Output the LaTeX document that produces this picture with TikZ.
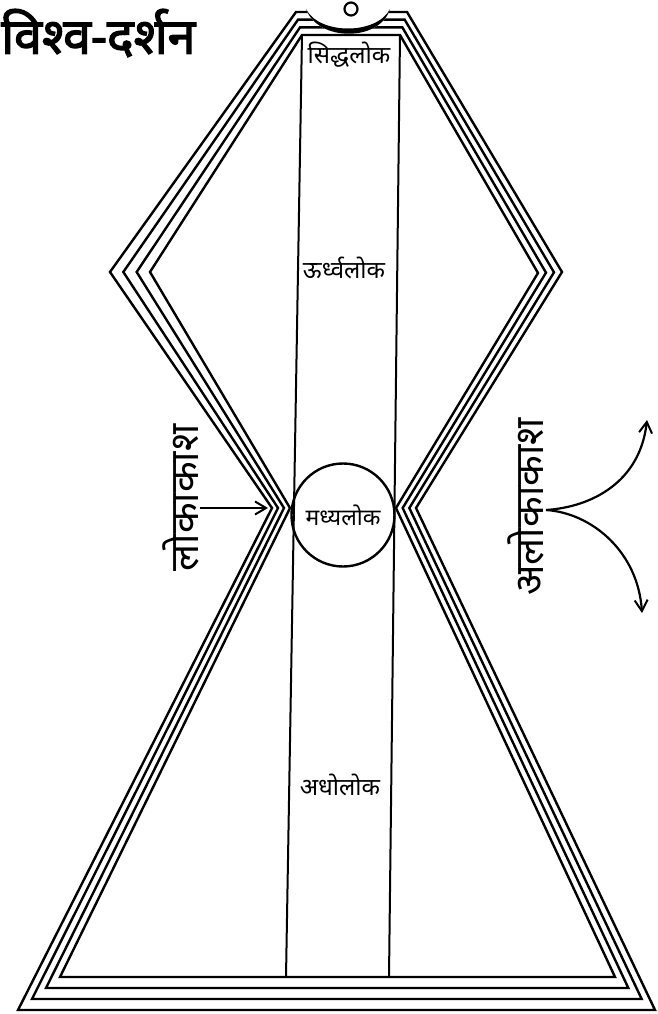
\documentclass[tikz,border=0pt]{standalone}
\usepackage{fontspec}
\newfontfamily\dev[Script=Devanagari]{Noto Sans}
\newfontfamily\devb[Script=Devanagari,FakeBold=2.5]{Noto Sans}
\usetikzlibrary{calc,arrows.meta}
\begin{document}
\begin{tikzpicture}[x=1pt,y=-1pt,line width=2.4pt,line join=miter,
  lbl/.style={font=\dev\fontsize{24}{28}\selectfont,inner sep=0pt},
  side/.style={font=\dev\fontsize{40}{44}\selectfont,inner sep=0pt,rotate=90},
  ttl/.style={font=\devb\fontsize{50}{54}\selectfont,inner sep=0pt},
  barb/.style={-{Straight Barb[length=11pt,width=13pt,line width=2pt]}}]
\useasboundingbox (0,0) rectangle (657,1014);
\fill[white] (0,0) rectangle (657,1014);
% outer and inner outlines
\coordinate (O1) at (296,12);  \coordinate (I1) at (302,35);
\coordinate (O2) at (110,272); \coordinate (I2) at (150,272);
\coordinate (O3) at (272,508); \coordinate (I3) at (290,508);
\coordinate (O4) at (18,1010); \coordinate (I4) at (60,977);
\coordinate (O5) at (655,1010);\coordinate (I5) at (615,977);
\coordinate (O6) at (416,508); \coordinate (I6) at (396,508);
\coordinate (O7) at (562,272); \coordinate (I7) at (538,273);
\coordinate (O8) at (407,12);  \coordinate (I8) at (400,35);
\foreach \k in {0,1,2,3}{
  \draw ($(O1)!\k/3!(I1)$) -- ($(O2)!\k/3!(I2)$) -- ($(O3)!\k/3!(I3)$) -- ($(O4)!\k/3!(I4)$)
     -- ($(O5)!\k/3!(I5)$) -- ($(O6)!\k/3!(I6)$) -- ($(O7)!\k/3!(I7)$) -- ($(O8)!\k/3!(I8)$) -- cycle;
}
% central column
\coordinate (CTL) at (302,35); \coordinate (CBL) at (286,977);
\coordinate (CTR) at (400,35); \coordinate (CBR) at (389,977);
\draw[line width=2pt] (CTL) -- (CBL);
\draw[line width=2pt] (CTR) -- (CBR);
% crescent and dot
\fill[white] (306,9) .. controls (318,42) and (380,42) .. (390,9) -- cycle;
\fill[black] (306,9) .. controls (318,42) and (380,42) .. (390,9)
   .. controls (377,35) and (319,35) .. (306,9) -- cycle;
\node[circle,draw,line width=2.2pt,minimum size=13pt,inner sep=0pt] (dot) at (351,9) {};
% labels
\node[ttl,anchor=west] (title) at (0,33) {विश्व-दर्शन};
\node[lbl] (siddha) at (349,55) {सिद्धलोक};
\node[lbl] (urdhva) at (344,268) {ऊर्ध्वलोक};
\node[circle,draw,line width=2.4pt,minimum size=103pt,inner sep=0pt,font=\dev\fontsize{23}{26}\selectfont] (madhya) at (343,515) {मध्यलोक};
\node[lbl] (adho) at (340,785) {अधोलोक};
\node[side] (loka) at (181,498) {लोकाकाश};
\node[side] (aloka) at (526,507) {अलोकाकाश};
% arrows
\coordinate (la) at (200,508); \coordinate (lb) at (268,508);
\draw[barb,line width=2pt] (la) -- (lb);
\coordinate (rs) at (546,510);
\coordinate (ru) at (647,420);
\coordinate (rd) at (642,613);
\draw[barb,line width=2.2pt] (rs) .. controls (592,507) and (640,482) .. (ru);
\draw[barb,line width=2.2pt] (rs) .. controls (592,513) and (638,552) .. (rd);
\end{tikzpicture}
\end{document}
